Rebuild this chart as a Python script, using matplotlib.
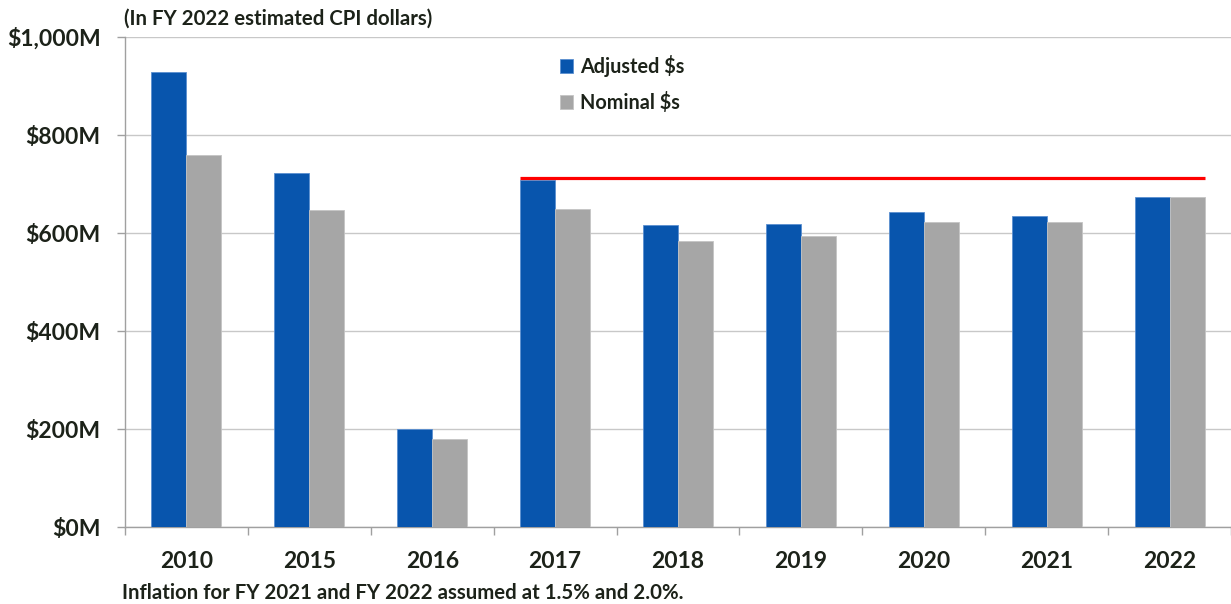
import matplotlib
matplotlib.use("Agg")
import matplotlib.pyplot as plt
import numpy as np

plt.rcParams['font.family'] = ['Lato', 'DejaVu Sans']
plt.rcParams['font.weight'] = 'bold'

years = ["2010", "2015", "2016", "2017", "2018", "2019", "2020", "2021", "2022"]
adjusted = [929, 723, 199, 708, 617, 619, 643, 634, 673]
nominal = [759, 646, 179, 650, 583, 594, 622, 622, 673]
reference_level = 712
ytick_values = [0, 200, 400, 600, 800, 1000]
ytick_labels = ["$0M", "$200M", "$400M", "$600M", "$800M", "$1,000M"]

TXT = '#1c2219'
BLUE = '#0855ad'
GRAY = '#a6a6a6'

W, H = 1231, 604
fig = plt.figure(figsize=(W / 100, H / 100), dpi=100)
L, R, T, B = 125, 1231, 37, 527
ax = fig.add_axes([L / W, (H - B) / H, (R - L) / W, (B - T) / H])

x = np.arange(len(years))
bw = 0.285
b1 = ax.bar(x - bw / 2, adjusted, bw, color=BLUE, edgecolor='#5b8fd0', linewidth=0.6,
            label='Adjusted $s', zorder=3)
b2 = ax.bar(x + bw / 2, nominal, bw, color=GRAY, edgecolor='#c4c4c4', linewidth=0.6,
            label='Nominal $s', zorder=3)

ax.hlines(reference_level, 3 - bw, 8 + bw, colors='#ff0000', linewidth=2.3, zorder=4)

ax.set_xlim(-0.5, len(years) - 0.5)
ax.set_ylim(0, 1000)

ax.set_yticks(ytick_values)
ax.set_yticklabels(ytick_labels)
ax.yaxis.grid(True, color='#c8c8c8', linewidth=1.0, zorder=0)
ax.set_axisbelow(True)

ax.set_xticks(x)
ax.set_xticklabels(years)
ax.set_xticks(np.arange(-0.5, len(years) + 0.5, 1), minor=True)
ax.tick_params(axis='x', which='major', length=0, pad=17, labelsize=16.5, labelcolor=TXT)
ax.tick_params(axis='x', which='minor', length=5.5, width=1, color='#a0a0a0', direction='out')
ax.tick_params(axis='y', length=6, width=1, color='#a0a0a0', pad=11.5, labelsize=16.5, labelcolor=TXT)
for lab in ax.get_xticklabels() + ax.get_yticklabels():
    lab.set_fontweight('bold')

for s in ['top', 'right']:
    ax.spines[s].set_visible(False)
for s in ['left', 'bottom']:
    ax.spines[s].set_color('#a0a0a0')
    ax.spines[s].set_linewidth(1.0)

leg = fig.legend(handles=[b1, b2], loc='upper left',
                 bbox_to_anchor=(560 / W, 1 - 55 / H), frameon=False,
                 borderpad=0, borderaxespad=0, handlelength=0.66, handleheight=0.66,
                 handletextpad=0.35, labelspacing=0.75,
                 prop={'family': ['Lato', 'DejaVu Sans'], 'weight': 'bold', 'size': 14.3})
for t in leg.get_texts():
    t.set_color(TXT)

fig.text(124 / W, 1 - 19 / H, "(In FY 2022 estimated CPI dollars)", ha='left', va='center',
         fontsize=14.7, fontweight='bold', color=TXT)
fig.text(122 / W, 1 - 593 / H, "Inflation for FY 2021 and FY 2022 assumed at 1.5% and 2.0%.",
         ha='left', va='center', fontsize=14.7, fontweight='bold', color=TXT)

fig.savefig("out.png", dpi=100)
